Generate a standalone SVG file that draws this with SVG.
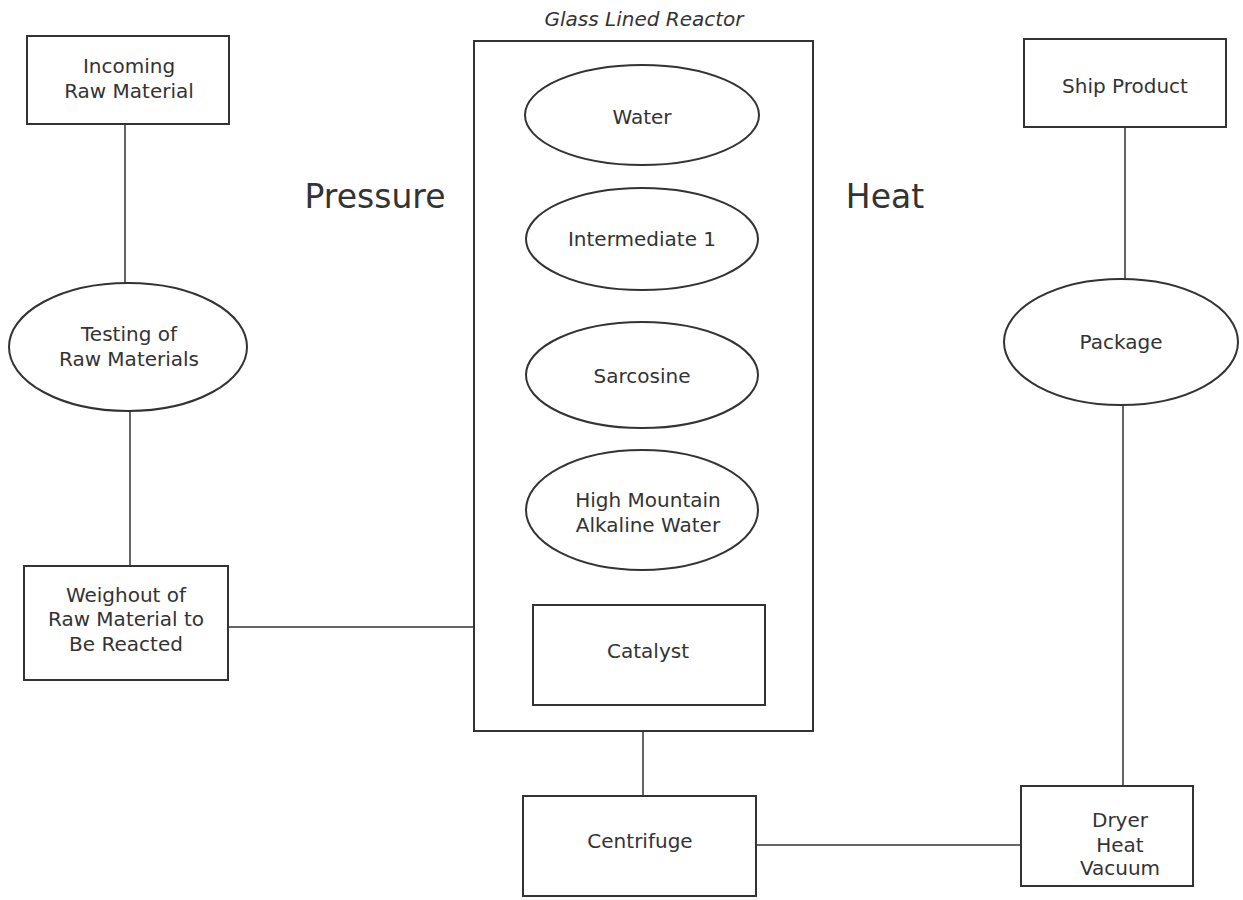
<svg xmlns="http://www.w3.org/2000/svg" width="1243" height="900" viewBox="0 0 1243 900">
<style>
.b{fill:#fff;stroke:#333;stroke-width:2}
.c{stroke:#333;stroke-width:1.5;fill:none}
text{font-family:"DejaVu Sans",Verdana,sans-serif;font-size:20px;fill:#333;text-anchor:middle}
.big{font-size:33px}
.it{font-style:italic;font-size:20px}
</style>
<rect width="1243" height="900" fill="#fff"/>
<g id="connectors">
<line class="c" x1="125" y1="124" x2="125" y2="283"/>
<line class="c" x1="130" y1="411" x2="130" y2="566"/>
<line class="c" x1="228" y1="627" x2="474" y2="627"/>
<line class="c" x1="643" y1="731" x2="643" y2="796"/>
<line class="c" x1="756" y1="845" x2="1021" y2="845"/>
<line class="c" x1="1125" y1="127" x2="1125" y2="279"/>
<line class="c" x1="1123" y1="405" x2="1123" y2="786"/>
</g>
<g id="reactor">
<text class="it" x="644" y="26">Glass Lined Reactor</text>
<rect class="b" x="474" y="41" width="339" height="690"/>
</g>
<g id="incoming"><rect class="b" x="27" y="36" width="202" height="88"/><text x="129" y="73">Incoming</text><text x="129" y="98">Raw Material</text></g>
<g id="testing"><ellipse class="b" cx="128" cy="347" rx="119" ry="64"/><text x="129" y="341">Testing of</text><text x="129" y="366">Raw Materials</text></g>
<g id="weighout"><rect class="b" x="24" y="566" width="204" height="114"/><text x="126" y="602">Weighout of</text><text x="126" y="626">Raw Material to</text><text x="126" y="651">Be Reacted</text></g>
<g id="water"><ellipse class="b" cx="642" cy="115" rx="117" ry="50"/><text x="642" y="124">Water</text></g>
<g id="intermediate"><ellipse class="b" cx="642" cy="239" rx="116" ry="51"/><text x="642" y="246">Intermediate 1</text></g>
<g id="sarcosine"><ellipse class="b" cx="642" cy="375" rx="116" ry="53"/><text x="642" y="383">Sarcosine</text></g>
<g id="hmaw"><ellipse class="b" cx="642" cy="510" rx="116" ry="60"/><text x="648" y="507">High Mountain</text><text x="648" y="532">Alkaline Water</text></g>
<g id="catalyst"><rect class="b" x="533" y="605" width="232" height="100"/><text x="648" y="658">Catalyst</text></g>
<g id="centrifuge"><rect class="b" x="523" y="796" width="233" height="100"/><text x="640" y="848">Centrifuge</text></g>
<g id="dryer"><rect class="b" x="1021" y="786" width="172" height="100"/><text x="1120" y="827">Dryer</text><text x="1120" y="852">Heat</text><text x="1120" y="875">Vacuum</text></g>
<g id="ship"><rect class="b" x="1024" y="39" width="202" height="88"/><text x="1125" y="93">Ship Product</text></g>
<g id="package"><ellipse class="b" cx="1121" cy="342" rx="117" ry="63"/><text x="1121" y="349">Package</text></g>
<g id="labels"><text class="big" x="375" y="208">Pressure</text><text class="big" x="885" y="208">Heat</text></g>
</svg>
